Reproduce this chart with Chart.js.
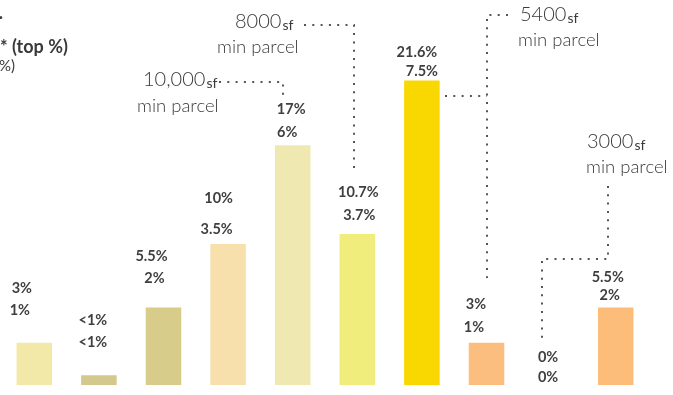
<!DOCTYPE html>
<html>
<head>
<meta charset="utf-8">
<script src="https://cdn.jsdelivr.net/npm/chart.js@4.4.1/dist/chart.umd.min.js"></script>
<style>
  html, body { margin: 0; padding: 0; background: #fff; }
  #wrap { width: 673px; height: 395px; }
</style>
</head>
<body>
<div id="wrap"><canvas id="chart" width="673" height="395"></canvas></div>
<script>
// data
const categories = ['Zone 1', 'Zone 2', 'Zone 3', 'Zone 4', 'Zone 5', 'Zone 6', 'Zone 7', 'Zone 8', 'Zone 9', 'Zone 10'];
const topShare = [3, 0.7, 5.5, 10, 17, 10.7, 21.6, 3, 0, 5.5];
const topLabels = ['3%', '<1%', '5.5%', '10%', '17%', '10.7%', '21.6%', '3%', '0%', '5.5%'];
const bottomLabels = ['1%', '<1%', '2%', '3.5%', '6%', '3.7%', '7.5%', '1%', '0%', '2%'];

// styling
const barColors = ['#f2e9a9', '#d3c98c', '#d7cc89', '#f7e0ab', '#efe8b0', '#f0ed7c', '#f9d700', '#fbbe7e', '#fbbe7e', '#fbbd79'];
// label offsets from bar centre / bar top: [dx1, dy1, dx2, dy2]
const labelOffsets = [
    [-12.5, -54, -14.5, -32],
    [-6, -55, -6, -33],
    [-12, -51, -9, -29],
    [-9.5, -46, -11.5, -15],
    [-1.5, -36, -5.5, -13],
    [1, -42, 2, -19],
    [-5, -28, 0, -9],
    [-10.5, -38, -12.5, -15],
    [-3, -28, -3, -8],
    [-8, -30, -6, -12]
];

const notes = [
    { big: '10,000', x: 143, y: 80 },
    { big: '8000', x: 235, y: 22 },
    { big: '5400', x: 520, y: 15 },
    { big: '3000', x: 587, y: 142 }
];
const noteSubs = [
    { x: 137, y: 106 },
    { x: 217, y: 47 },
    { x: 518, y: 40 },
    { x: 586, y: 167 }
];
const dotPaths = [
    [[219, 82], [283, 82], [283, 97]],
    [[304, 25], [354, 25], [354, 168]],
    [[508, 15], [487, 15], [487, 278]],
    [[445, 96], [487, 96]],
    [[608, 186], [608, 259], [542, 259], [542, 343]]
];

const FONT = 'Lato, "Open Sans", sans-serif';

const overlay = {
    id: 'overlay',
    afterDatasetsDraw(chart) {
        const ctx = chart.ctx;
        const meta = chart.getDatasetMeta(0);
        ctx.save();
        ctx.fillStyle = '#3f3f3f';
        ctx.textAlign = 'center';
        ctx.textBaseline = 'middle';
        ctx.font = 'bold 14.5px ' + FONT;
        meta.data.forEach((bar, i) => {
            const o = labelOffsets[i];
            ctx.fillText(topLabels[i], bar.x + o[0], bar.y + o[1]);
            ctx.fillText(bottomLabels[i], bar.x + o[2], bar.y + o[3]);
        });

        // dotted leader lines
        ctx.strokeStyle = '#555';
        ctx.lineWidth = 2;
        ctx.setLineDash([2, 6.3]);
        dotPaths.forEach(p => {
            ctx.beginPath();
            ctx.moveTo(p[0][0], p[0][1]);
            for (let k = 1; k < p.length; k++) ctx.lineTo(p[k][0], p[k][1]);
            ctx.stroke();
        });
        ctx.setLineDash([]);

        // min parcel notes
        ctx.textAlign = 'left';
        ctx.fillStyle = '#3a3a3a';
        notes.forEach((n, i) => {
            ctx.font = '300 20px ' + FONT;
            ctx.fillText(n.big, n.x, n.y);
            const w = ctx.measureText(n.big).width;
            ctx.font = '14px ' + FONT;
            ctx.fillText('sf', n.x + w + 1, n.y + 3);
            ctx.font = '300 18.5px ' + FONT;
            ctx.fillText('min parcel', noteSubs[i].x, noteSubs[i].y);
        });

        // cut-off legend on the left
        ctx.textAlign = 'right';
        ctx.font = 'bold 18px ' + FONT;
        ctx.fillText('.', 3, 13);
        ctx.fillText('Share of parcels', -1, 47);
        ctx.textAlign = 'left';
        ctx.fillText('*', 0, 47);
        ctx.fillText('(top %)', 12, 47);
        ctx.textAlign = 'right';
        ctx.font = '15px ' + FONT;
        ctx.fillText('(share of land %)', 15, 66);
        ctx.restore();
    }
};

new Chart(document.getElementById('chart'), {
    type: 'bar',
    data: {
        labels: categories,
        datasets: [{
            data: topShare,
            backgroundColor: barColors,
            borderWidth: 0,
            barPercentage: 0.55,
            categoryPercentage: 1
        }]
    },
    options: {
        responsive: false,
        animation: false,
        layout: { padding: { left: 2, right: 25, top: 0, bottom: 10 } },
        plugins: { legend: { display: false }, tooltip: { enabled: false } },
        scales: {
            x: { display: false },
            y: { display: false, min: 0, max: 27.3 }
        }
    },
    plugins: [overlay]
});
</script>
</body>
</html>
